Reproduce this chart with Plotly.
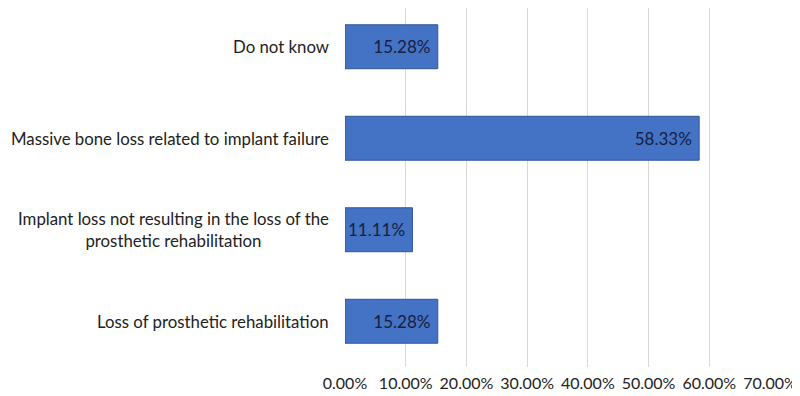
import plotly.graph_objects as go

categories = [
    "Loss of prosthetic rehabilitation",
    "Implant loss not resulting in the loss of the<br>prosthetic rehabilitation",
    "Massive bone loss related to implant failure",
    "Do not know",
]
values = [15.28, 11.11, 58.33, 15.28]
tick_vals = [0, 10, 20, 30, 40, 50, 60, 70]
tick_text = ["0.00%", "10.00%", "20.00%", "30.00%", "40.00%", "50.00%", "60.00%", "70.00%"]

fig = go.Figure(go.Bar(
    y=categories, x=values, orientation="h",
    texttemplate="%{x:.2f}%\u00a0", textposition="inside", insidetextanchor="end",
    constraintext="none",
    textfont=dict(color="#17203f", size=17, family="Lato"),
    marker=dict(color="#4472C4", line=dict(color="#2f5597", width=1)),
    cliponaxis=False,
))
for c in categories:
    fig.add_annotation(x=0, y=c, xref="x", yref="y", text=c, showarrow=False,
                       xanchor="right", xshift=-14, align="center",
                       font=dict(family="Lato", size=16.8, color="#222"))
# page has an 8px body margin; compensate so plot area sits at x 345..770, y 1..367
fig.update_layout(
    width=792, height=388,
    margin=dict(l=337, r=30, t=0, b=29),
    plot_bgcolor="white", paper_bgcolor="white",
    bargap=0.52,
    font=dict(family="Lato", size=16, color="#222"),
    showlegend=False,
)
fig.update_xaxes(range=[0, 70], tickvals=tick_vals, ticktext=tick_text,
                 showgrid=True, gridcolor="#d9d9d9", gridwidth=1,
                 zeroline=False, showline=False, ticks="", tickfont=dict(size=16),
                 ticklabelstandoff=5, automargin=False)
fig.update_yaxes(showgrid=False, zeroline=False, showline=False, showticklabels=False,
                 range=[-0.5, 3.5 - 7 / 91.5], automargin=False)
fig.write_html("out.html")
